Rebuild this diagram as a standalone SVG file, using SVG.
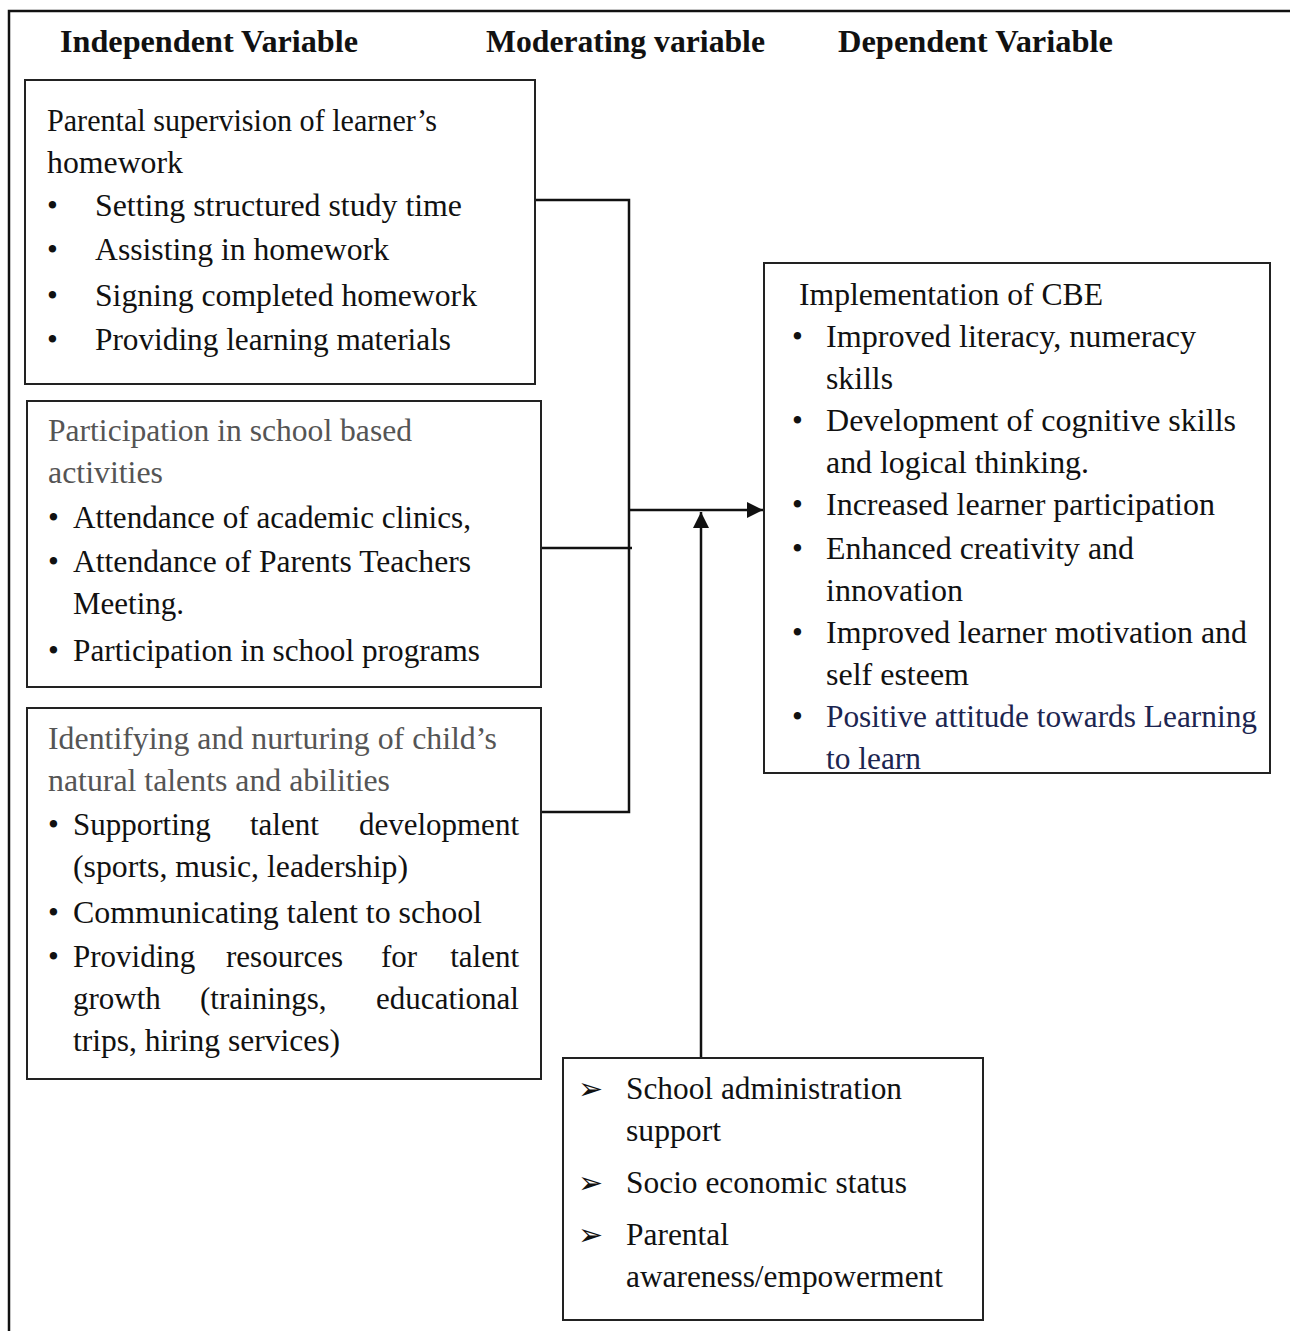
<svg xmlns="http://www.w3.org/2000/svg" width="1290" height="1331" viewBox="0 0 1290 1331">
<defs>
<style>
.t{font-family:"Liberation Serif","Times New Roman",serif;font-size:31px;fill:#111}
.h{font-family:"Liberation Serif","Times New Roman",serif;font-size:31px;font-weight:bold;fill:#111}
.g{fill:#555}
.n{fill:#1c2550}
.e{text-anchor:end}
.box{fill:#fff;stroke:#222;stroke-width:2}
.ln{fill:none;stroke:#111;stroke-width:2.5}
.ar{font-family:"DejaVu Sans",sans-serif;font-size:30px;fill:#111}
</style>
<marker id="ah" viewBox="0 0 10 10" refX="10" refY="5" markerWidth="6.5" markerHeight="6.5" orient="auto-start-reverse" markerUnits="strokeWidth">
<path d="M0,0 L10,5 L0,10 Z" fill="#111"/>
</marker>
</defs>
<rect width="1290" height="1331" fill="#fff"/>
<path d="M9,1331 V11 H1290" fill="none" stroke="#111" stroke-width="2.5"/>
<g id="headers">
<text class="h" x="60" y="52" textLength="298" lengthAdjust="spacingAndGlyphs">Independent Variable</text>
<text class="h" x="486" y="52" textLength="279" lengthAdjust="spacingAndGlyphs">Moderating variable</text>
<text class="h" x="838" y="52" textLength="275" lengthAdjust="spacingAndGlyphs">Dependent Variable</text>
</g>
<g id="connectors">
<path class="ln" d="M535,200 H629 V812 H541"/>
<path class="ln" d="M541,548 H632"/>
<line class="ln" x1="629" y1="510" x2="763" y2="510" marker-end="url(#ah)"/>
<line class="ln" x1="701" y1="1058" x2="701" y2="512" marker-end="url(#ah)"/>
</g>
<g id="box1">
<rect class="box" x="25" y="80" width="510" height="304"/>
<text class="t" x="47" y="131" textLength="390" lengthAdjust="spacingAndGlyphs">Parental supervision of learner’s</text>
<text class="t" x="47" y="173" textLength="136" lengthAdjust="spacingAndGlyphs">homework</text>
<text class="t" x="47" y="216">•</text><text class="t" x="95" y="216" textLength="367" lengthAdjust="spacingAndGlyphs">Setting structured study time</text>
<text class="t" x="47" y="260">•</text><text class="t" x="95" y="260" textLength="294" lengthAdjust="spacingAndGlyphs">Assisting in homework</text>
<text class="t" x="47" y="306">•</text><text class="t" x="95" y="306" textLength="382" lengthAdjust="spacingAndGlyphs">Signing completed homework</text>
<text class="t" x="47" y="350">•</text><text class="t" x="95" y="350" textLength="356" lengthAdjust="spacingAndGlyphs">Providing learning materials</text>
</g>
<g id="box2">
<rect class="box" x="27" y="401" width="514" height="286"/>
<text class="t g" x="48" y="441" textLength="364" lengthAdjust="spacingAndGlyphs">Participation in school based</text>
<text class="t g" x="48" y="483" textLength="115" lengthAdjust="spacingAndGlyphs">activities</text>
<text class="t" x="48" y="528">•</text><text class="t" x="73" y="528" textLength="398" lengthAdjust="spacingAndGlyphs">Attendance of academic clinics,</text>
<text class="t" x="48" y="572">•</text><text class="t" x="73" y="572" textLength="398" lengthAdjust="spacingAndGlyphs">Attendance of Parents Teachers</text>
<text class="t" x="73" y="614" textLength="111" lengthAdjust="spacingAndGlyphs">Meeting.</text>
<text class="t" x="48" y="661">•</text><text class="t" x="73" y="661" textLength="407" lengthAdjust="spacingAndGlyphs">Participation in school programs</text>
</g>
<g id="box3">
<rect class="box" x="27" y="708" width="514" height="371"/>
<text class="t g" x="48" y="749" textLength="449" lengthAdjust="spacingAndGlyphs">Identifying and nurturing of child’s</text>
<text class="t g" x="48" y="791" textLength="342" lengthAdjust="spacingAndGlyphs">natural talents and abilities</text>
<text class="t" x="48" y="835">•</text>
<text class="t" y="835"><tspan x="73">Supporting</tspan><tspan x="250">talent</tspan></text>
<text class="t e" x="519" y="835">development</text>
<text class="t" x="73" y="877" textLength="335" lengthAdjust="spacingAndGlyphs">(sports, music, leadership)</text>
<text class="t" x="48" y="923">•</text><text class="t" x="73" y="923" textLength="409" lengthAdjust="spacingAndGlyphs">Communicating talent to school</text>
<text class="t" x="48" y="967">•</text>
<text class="t" y="967"><tspan x="73">Providing</tspan><tspan x="226">resources</tspan><tspan x="381">for</tspan></text>
<text class="t e" x="519" y="967">talent</text>
<text class="t" y="1009"><tspan x="73">growth</tspan><tspan x="200">(trainings,</tspan></text>
<text class="t e" x="519" y="1009">educational</text>
<text class="t" x="73" y="1051" textLength="267" lengthAdjust="spacingAndGlyphs">trips, hiring services)</text>
</g>
<g id="dependent">
<rect class="box" x="764" y="263" width="506" height="510"/>
<text class="t" x="799" y="305" textLength="304" lengthAdjust="spacingAndGlyphs">Implementation of CBE</text>
<text class="t" x="792" y="347">•</text><text class="t" x="826" y="347" textLength="370" lengthAdjust="spacingAndGlyphs">Improved literacy, numeracy</text>
<text class="t" x="826" y="389" textLength="67" lengthAdjust="spacingAndGlyphs">skills</text>
<text class="t" x="792" y="431">•</text><text class="t" x="826" y="431" textLength="410" lengthAdjust="spacingAndGlyphs">Development of cognitive skills</text>
<text class="t" x="826" y="473" textLength="263" lengthAdjust="spacingAndGlyphs">and logical thinking.</text>
<text class="t" x="792" y="515">•</text><text class="t" x="826" y="515" textLength="389" lengthAdjust="spacingAndGlyphs">Increased learner participation</text>
<text class="t" x="792" y="559">•</text><text class="t" x="826" y="559" textLength="308" lengthAdjust="spacingAndGlyphs">Enhanced creativity and</text>
<text class="t" x="826" y="601" textLength="137" lengthAdjust="spacingAndGlyphs">innovation</text>
<text class="t" x="792" y="643">•</text><text class="t" x="826" y="643" textLength="421" lengthAdjust="spacingAndGlyphs">Improved learner motivation and</text>
<text class="t" x="826" y="685" textLength="143" lengthAdjust="spacingAndGlyphs">self esteem</text>
<text class="t" x="792" y="727">•</text><text class="t n" x="826" y="727" textLength="431" lengthAdjust="spacingAndGlyphs">Positive attitude towards Learning</text>
<text class="t n" x="826" y="769" textLength="95" lengthAdjust="spacingAndGlyphs">to learn</text>
</g>
<g id="moderating">
<rect class="box" x="563" y="1058" width="420" height="262"/>
<text class="ar" x="578" y="1099">➢</text><text class="t" x="626" y="1099" textLength="276" lengthAdjust="spacingAndGlyphs">School administration</text>
<text class="t" x="626" y="1141" textLength="95" lengthAdjust="spacingAndGlyphs">support</text>
<text class="ar" x="578" y="1193">➢</text><text class="t" x="626" y="1193" textLength="281" lengthAdjust="spacingAndGlyphs">Socio economic status</text>
<text class="ar" x="578" y="1245">➢</text><text class="t" x="626" y="1245" textLength="103" lengthAdjust="spacingAndGlyphs">Parental</text>
<text class="t" x="626" y="1287" textLength="317" lengthAdjust="spacingAndGlyphs">awareness/empowerment</text>
</g>
</svg>
